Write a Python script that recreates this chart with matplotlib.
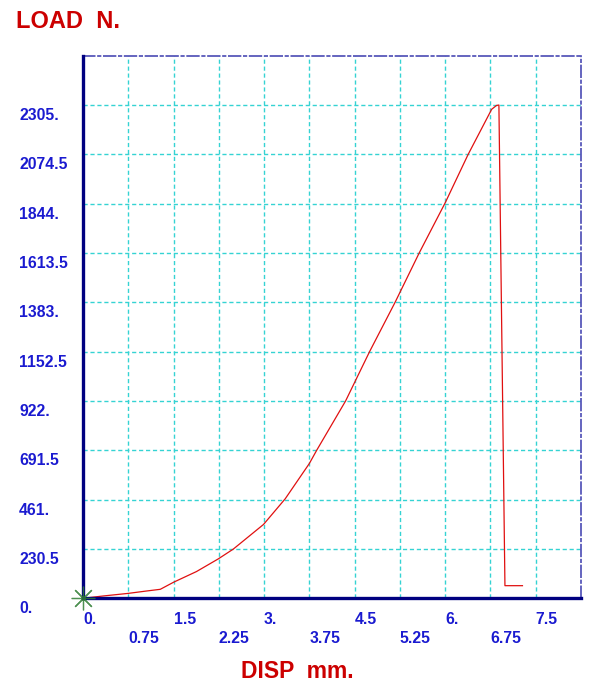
import matplotlib
matplotlib.use("Agg")
import matplotlib.pyplot as plt
from matplotlib.transforms import ScaledTranslation

# Load-displacement record
disp_mm = [0, 0.34, 0.75, 1.05, 1.28, 1.50, 1.88, 2.24, 2.49, 2.99, 3.35, 3.75,
           3.87, 4.35, 4.75, 5.17, 5.57, 6.00, 6.38, 6.77, 6.85, 6.89,
           6.99, 7.28]
load_n = [0, 11, 23, 34, 42, 75, 125, 184, 230, 345, 465, 630,
          691, 922, 1154, 1383, 1614, 1848, 2074, 2285, 2303, 2305,
          59, 59]

x_ticks = [0, 0.75, 1.5, 2.25, 3.0, 3.75, 4.5, 5.25, 6.0, 6.75, 7.5]
x_labels = ["0.", "0.75", "1.5", "2.25", "3.", "3.75", "4.5", "5.25", "6.", "6.75", "7.5"]
y_ticks = [0, 230.5, 461, 691.5, 922, 1152.5, 1383, 1613.5, 1844, 2074.5, 2305]
y_labels = ["0.", "230.5", "461.", "691.5", "922.", "1152.5", "1383.", "1613.5",
            "1844.", "2074.5", "2305."]

W, H, DPI = 589, 691, 100
fig = plt.figure(figsize=(W / DPI, H / DPI), dpi=DPI)
ax = fig.add_axes([83 / W, (H - 598.3) / H, (581 - 83) / W, (598.3 - 55.7) / H])

ax.set_xlim(0, 8.25)
ax.set_ylim(0, 2535.5)

FONT = "Liberation Sans"
TICK_COLOR = "#1a1ad0"
TITLE_COLOR = "#cc0000"

# grid
grid_kw = dict(color="#35d3d3", lw=1.0, linestyle=(0, (3, 2)), zorder=1)
for xv in x_ticks[1:]:
    ax.axvline(xv, **grid_kw)
for yv in y_ticks[1:]:
    ax.axhline(yv, **grid_kw)

# frame
for side in ("left", "bottom"):
    ax.spines[side].set_color("#000080")
    ax.spines[side].set_linewidth(2.4)
    ax.spines[side].set_zorder(4)
for side in ("top", "right"):
    ax.spines[side].set_color("#4a4ab4")
    ax.spines[side].set_linewidth(1.2)
    ax.spines[side].set_linestyle((0, (7, 2, 1.5, 2)))

# curve
ax.plot(disp_mm, load_n, color="#e01010", lw=0.9, zorder=3, solid_joinstyle="round")
ax.plot([0], [0], marker=(8, 2, 0), markersize=17, color="#2e7d32",
        markeredgewidth=0.9, zorder=5, clip_on=False, alpha=0.85)

# y tick labels: left aligned, sitting just below their grid line
ax.set_yticks(y_ticks)
ax.set_yticklabels(y_labels)
ax.tick_params(axis="y", length=0, pad=(83 - 19) * 72 / DPI)
shift_y = ScaledTranslation(0, -9 / DPI, fig.dpi_scale_trans)
for lab in ax.get_yticklabels():
    lab.set_horizontalalignment("left")
    lab.set_fontfamily(FONT)
    lab.set_fontweight("bold")
    lab.set_fontsize(11.3)
    lab.set_color(TICK_COLOR)
    lab.set_transform(lab.get_transform() + shift_y)

# x tick labels: two staggered rows, left aligned at the tick
ax.set_xticks(x_ticks[0::2])
ax.set_xticklabels(x_labels[0::2])
ax.set_xticks(x_ticks[1::2], minor=True)
ax.set_xticklabels(x_labels[1::2], minor=True)
ax.tick_params(axis="x", which="major", length=0, pad=9.7)
ax.tick_params(axis="x", which="minor", length=0, pad=23.5)
for lab in ax.get_xticklabels() + ax.get_xticklabels(minor=True):
    lab.set_horizontalalignment("left")
    lab.set_fontfamily(FONT)
    lab.set_fontweight("bold")
    lab.set_fontsize(11.3)
    lab.set_color(TICK_COLOR)

# axis titles
fig.text(16 / W, 1 - 22 / H, "LOAD  N.", color=TITLE_COLOR, fontsize=17,
         fontweight="bold", family=FONT, ha="left", va="center")
fig.text(297 / W, 1 - 672 / H, "DISP  mm.", color=TITLE_COLOR, fontsize=16.5,
         fontweight="bold", family=FONT, ha="center", va="center")

fig.savefig("out.png", dpi=DPI, facecolor="white")
